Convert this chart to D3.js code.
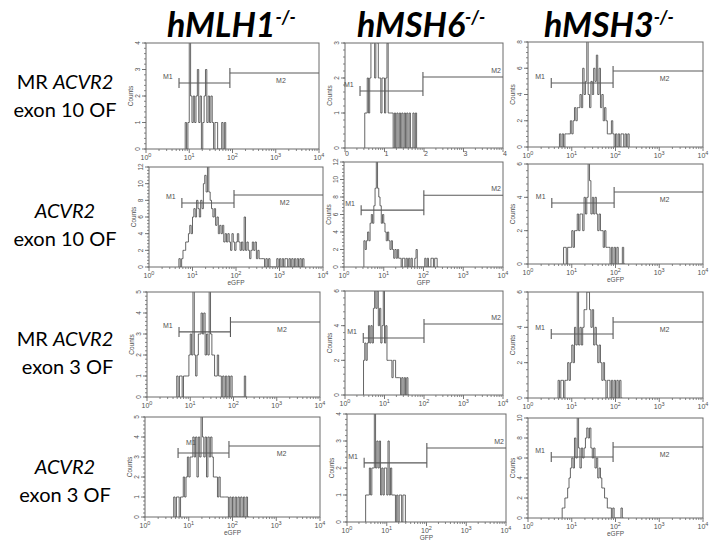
<!DOCTYPE html>
<html><head><meta charset="utf-8">
<script src="https://cdnjs.cloudflare.com/ajax/libs/d3/7.8.5/d3.min.js"></script>
<style>body{margin:0;background:#fff;} svg{display:block;}</style>
</head><body><svg id="c" width="717" height="550"></svg>
<script>
// ---------------- DATA ----------------
const genotypes = ["hMLH1", "hMSH6", "hMSH3"];
const genotypeSup = ["-/-", "-/-", "-/-"];
const rowPrefix = ["MR ", "", "MR ", ""];
const rowGene = ["ACVR2", "ACVR2", "ACVR2", "ACVR2"];
const rowExon = ["exon 10 OF", "exon 10 OF", " exon 3 OF", "exon 3 OF"];

const binsPerDecade = 32;           // channel resolution (log scale)
const xTickValues = [1, 10, 100, 1000, 10000];
const xTickExp = ["0", "1", "2", "3", "4"];

// histogram counts per channel (row-major: r1c1 ... r4c3)
const histStart = [29, 16, 23, 22, 16, 26, 22, 15, 22, 21, 15, 25];
const hist_MLH1_MR10 = [1,0,1,5,2,1,2,1,2,3,1,2,0,1,2,3,1,2,1,2,1,0,1,1,0,0,0,1,0,1];
const hist_MSH6_MR10 = [1,1,2,1,2,4,3,4,2,4,3,2,2,1,2,2,1,2,3,1,1,1,1,0,1,0,1,0,1,0,1,0,1,0,1,0,1,0,0,1,0,1];
const hist_MSH3_MR10 = [1,0,1,0,1,1,1,1,2,1,2,3,2,3,3,4,3,6,4,5,9,4,3,5,4,6,5,7,4,6,3,4,2,3,2,1,1,1,2,1,0,1,0,1,0,1,1,0,1,0,1];
const hist_MLH1_E10 = [1,0,1,2,2,3,3,4,5,4,6,7,6,8,7,6,8,7,10,11,9,13,9,8,7,6,7,5,6,4,5,4,5,3,4,3,4,3,2,4,3,2,3,4,3,2,3,2,6,2,3,2,1,2,3,2,3,1,2,1,1,1,1,0,1,0,1,0,0,0,0,0,1,0,1,0,1,0,1,1,0,1,0,1,0,1,0,1,0,1,0,1];
const hist_MSH6_E10 = [3,2,3,4,3,5,6,5,7,9,13,9,8,7,5,6,5,4,3,4,3,2,3,2,1,2,1,2,1,1,0,1,1,0,1,0,1,0,1,0,0,1,2,0,0,0,0,0,0,1,0,1,0,0,1,1,0,1,1,0];
const hist_MSH3_E10 = [1,1,0,1,1,1,2,1,2,2,3,2,3,3,2,4,3,4,7,5,3,4,3,4,3,2,3,2,2,1,2,1,1,1,0,1,0,1,0,1,0,0,0,1,0];
const hist_MLH1_MR3 = [1,0,1,1,0,1,1,1,1,2,3,2,6,2,1,2,3,3,4,3,4,2,3,2,6,3,2,2,1,1,2,1,1,0,1,0,1,0,1,0,1,0,0,0,0,0,0,0,0,0,1,0];
const hist_MSH6_MR3 = [2,3,2,3,4,3,4,3,5,7,5,6,4,5,3,4,7,3,4,2,2,2,2,1,2,2,1,1,1,1,0,1,0,1,0,1,0];
const hist_MSH3_MR3 = [1,0,1,1,0,1,1,2,1,2,3,2,4,3,7,3,4,3,4,5,5,6,6,5,4,5,3,4,3,2,3,2,1,2,1,0,1,1,0,1,0,1,0,1,0,1,0];
const hist_MLH1_E3 = [1,0,1,1,0,1,1,2,1,2,3,2,3,3,4,3,4,2,4,3,6,4,3,4,2,4,3,4,3,2,2,2,1,2,1,1,1,1,1,1,0,1,0,1,0,1,0,1,0,1,0,1,0,1,0];
const hist_MSH6_E3 = [1,1,1,2,1,2,2,5,2,3,2,3,1,2,1,2,2,1,3,1,2,1,1,1,0,1,0,1,1,0,1,1,0];
const hist_MSH3_E3 = [1,1,2,2,3,4,5,6,5,8,6,11,7,5,7,6,7,8,9,8,9,7,6,7,5,6,4,5,4,3,3,2,2,1,1,1,0,1,0,0,0,0,0,1,0];
const histCounts = [hist_MLH1_MR10, hist_MSH6_MR10, hist_MSH3_MR10,
                    hist_MLH1_E10, hist_MSH6_E10, hist_MSH3_E10,
                    hist_MLH1_MR3, hist_MSH6_MR3, hist_MSH3_MR3,
                    hist_MLH1_E3, hist_MSH6_E3, hist_MSH3_E3];

const yMax  = [4, 3, 8, 12, 12, 6, 5, 6, 6, 5, 4, 10];
const yStep = [1, 1, 2, 2, 2, 2, 1, 2, 2, 1, 1, 2];
// gates (M1 / M2) in GFP units and count level
const m1Lo    = [5.8, 2.4, 3.4, 5.7, 2.7, 3.5, 5.5, 2.9, 3.4, 5.7, 2.7, 3.4];
const m1Hi    = [87, 94, 88, 90, 102, 93, 85, 100, 88, 83, 102, 88];
const m2Hi    = [10000, 10000, 10000, 10000, 10000, 10000, 10000, 10000, 10000, 10000, 10000, 10000];
const m1Level = [2.49, 1.63, 4.88, 7.68, 6.5, 3.66, 3.1, 3.29, 3.62, 3.2, 2.19, 6.1];
const m2Level = [2.87, 2.03, 5.79, 8.64, 8.2, 4.32, 3.57, 4.1, 4.3, 3.55, 2.74, 7.1];
const xTitles = ["", "", "", "eGFP", "GFP", "eGFP", "", "", "", "eGFP", "GFP", "eGFP"];

// ---------------- LAYOUT ----------------
const frames = [
  [146,319,43,149],[345,503,43,148],[528,703,42,147],
  [149,323,167,267],[344,503,162,267],[528,703,164,264],
  [147,320,292,397],[345,503,291,395],[528,703,292,398],
  [145,320,417,517],[347,506,414,522],[528,703,418,518]
];
const titleX = [167, 357, 544];
const rowY = [89, 218, 346, 474];
const croppedTickLabels = [false,true,false,false,false,false,false,false,false,false,false,false];

const svg = d3.select("#c");
const axisCol = "#6a6a6a", histCol = "#555", gateCol = "#5a5a5a", txtCol = "#505050";
const FONT = "Lato, 'Open Sans', sans-serif";
const SMALL = "Arial, 'Liberation Sans', sans-serif";

// titles
genotypes.forEach((g, i) => {
  const t = svg.append("text").attr("x", titleX[i]).attr("y", 37)
    .style("font-family", FONT).style("font-weight", "bold").style("font-style", "italic")
    .style("font-size", "34px").attr("fill", "#000");
  t.append("tspan").text(g);
  t.append("tspan").attr("dy", -13).style("font-size", "18px").text(genotypeSup[i]);
});

// row labels
rowGene.forEach((g, r) => {
  const t1 = svg.append("text").attr("x", 65).attr("y", rowY[r]).attr("text-anchor", "middle")
    .style("font-family", FONT).style("font-size", "20px").attr("fill", "#000");
  if (rowPrefix[r]) t1.append("tspan").text(rowPrefix[r]);
  t1.append("tspan").style("font-style", "italic").text(g);
  svg.append("text").attr("x", 65).attr("y", rowY[r] + 28).attr("text-anchor", "middle")
    .style("font-family", FONT).style("font-size", "20px").attr("fill", "#000")
    .attr("xml:space", "preserve").text(rowExon[r]);
});

// panels
frames.forEach((f, p) => {
  const [L, R, T, B] = f;
  const x = d3.scaleLog().domain([1, 10000]).range([L, R]);
  const y = d3.scaleLinear().domain([0, yMax[p]]).range([B, T]);
  const g = svg.append("g");
  const clipId = "clip" + p;
  svg.append("clipPath").attr("id", clipId).append("rect")
    .attr("x", L).attr("y", T).attr("width", R - L).attr("height", B - T);

  // histogram
  const start = histStart[p], counts = histCounts[p];
  const pts = [[Math.pow(10, start / binsPerDecade), 0]];
  counts.forEach((c, i) => pts.push([Math.pow(10, (start + i) / binsPerDecade), c]));
  pts.push([Math.pow(10, (start + counts.length) / binsPerDecade), 0]);
  const line = d3.line().x(d => x(d[0])).y(d => y(d[1])).curve(d3.curveStepAfter);
  g.append("path").attr("d", line(pts)).attr("fill", "none").attr("stroke", histCol)
    .attr("stroke-width", 0.9).attr("clip-path", `url(#${clipId})`);

  // frame
  g.append("rect").attr("x", L).attr("y", T).attr("width", R - L).attr("height", B - T)
    .attr("fill", "none").attr("stroke", axisCol).attr("stroke-width", 1);

  // x ticks
  const minor = [];
  for (let d = 0; d < 4; d++) for (let k = 2; k <= 9; k++) minor.push(k * Math.pow(10, d));
  g.selectAll(null).data(minor).enter().append("line")
    .attr("x1", d => x(d)).attr("x2", d => x(d)).attr("y1", B).attr("y2", B + 2)
    .attr("stroke", axisCol).attr("stroke-width", 0.8);
  g.selectAll(null).data(xTickValues).enter().append("line")
    .attr("x1", d => x(d)).attr("x2", d => x(d)).attr("y1", B).attr("y2", B + 4)
    .attr("stroke", axisCol).attr("stroke-width", 0.9);
  xTickValues.forEach((v, i) => {
    const t = g.append("text").attr("x", x(v)).attr("y", B + 11).attr("text-anchor", "middle")
      .style("font-family", SMALL).style("font-size", "7px").attr("fill", txtCol);
    if (croppedTickLabels[p]) {
      t.attr("x", x(v) + 2).attr("y", B + 8).text(xTickExp[i]);
    } else {
      t.append("tspan").text("10");
      t.append("tspan").attr("dy", -3).style("font-size", "5.5px").text(xTickExp[i]);
    }
  });
  if (xTitles[p]) {
    g.append("text").attr("x", (L + R) / 2).attr("y", B + 18).attr("text-anchor", "middle")
      .style("font-family", SMALL).style("font-size", "6.5px")
      .attr("fill", txtCol).text(xTitles[p]);
  }

  // y ticks
  const ymaj = d3.range(0, yMax[p] + 0.001, yStep[p]);
  const ymin = d3.range(0, yMax[p] + 0.001, yStep[p] / 5);
  g.selectAll(null).data(ymin).enter().append("line")
    .attr("x1", L - 2).attr("x2", L).attr("y1", d => y(d)).attr("y2", d => y(d))
    .attr("stroke", axisCol).attr("stroke-width", 0.8);
  g.selectAll(null).data(ymaj).enter().append("line")
    .attr("x1", L - 4).attr("x2", L).attr("y1", d => y(d)).attr("y2", d => y(d))
    .attr("stroke", axisCol).attr("stroke-width", 0.9);
  ymaj.forEach(v => {
    g.append("text").attr("transform", `translate(${L - 6},${y(v)}) rotate(-90)`)
      .attr("text-anchor", "middle").style("font-family", SMALL)
      .style("font-size", "6.5px").attr("fill", txtCol).text(v);
  });
  g.append("text").attr("transform", `translate(${L - 13},${(T + B) / 2}) rotate(-90)`)
    .attr("text-anchor", "middle").style("font-family", SMALL)
    .style("font-size", "6.5px").attr("fill", txtCol).text("Counts");

  // gates
  const gy1 = y(m1Level[p]), gy2 = y(m2Level[p]);
  const gx1 = x(m1Lo[p]), gx2 = x(m1Hi[p]), gx3 = x(m2Hi[p]);
  g.append("line").attr("x1", gx1).attr("x2", gx2).attr("y1", gy1).attr("y2", gy1).attr("stroke", gateCol).attr("stroke-width", 1.1);
  g.append("line").attr("x1", gx1).attr("x2", gx1).attr("y1", gy1 - 5).attr("y2", gy1 + 5).attr("stroke", gateCol).attr("stroke-width", 1.1);
  g.append("line").attr("x1", gx2).attr("x2", gx2).attr("y1", Math.min(gy1, gy2) - 5).attr("y2", gy1 + 5).attr("stroke", gateCol).attr("stroke-width", 1.1);
  g.append("line").attr("x1", gx2).attr("x2", gx3).attr("y1", gy2).attr("y2", gy2).attr("stroke", gateCol).attr("stroke-width", 1.1);
  const col = p % 3;
  g.append("text").attr("x", p === 9 ? gx1 + 8 : gx1 - 16).attr("y", p === 9 ? gy1 - 8 : gy1 - 4)
    .style("font-family", SMALL).style("font-size", "7px")
    .attr("fill", txtCol).text("M1");
  if (col === 1) {
    g.append("text").attr("x", R - 2).attr("y", gy2 - 4).attr("text-anchor", "end")
      .style("font-family", SMALL).style("font-size", "7px")
      .attr("fill", txtCol).text("M2");
  } else {
    g.append("text").attr("x", L + (R - L) * 0.78).attr("y", gy2 + 10).attr("text-anchor", "middle")
      .style("font-family", SMALL).style("font-size", "7px")
      .attr("fill", txtCol).text("M2");
  }
});
</script></body></html>
